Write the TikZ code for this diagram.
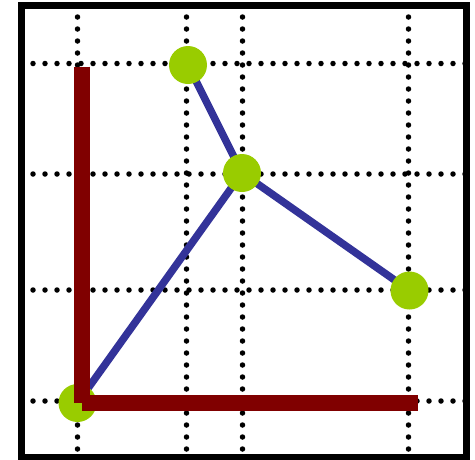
\documentclass[tikz,border=0pt]{standalone}
\definecolor{dotgreen}{RGB}{153,204,0}
\definecolor{edgeblue}{RGB}{51,51,153}
\definecolor{barred}{RGB}{128,0,0}
\begin{document}
\begin{tikzpicture}[x=1pt,y=-1pt,
  gridline/.style={line width=5.5pt,line cap=round,dash pattern=on 0pt off 12pt},
  vertex/.style={circle,fill=dotgreen,minimum size=38pt,inner sep=0pt},
  edge/.style={draw=edgeblue,line width=7.5pt},
  bar/.style={draw=barred,line width=16pt,line cap=butt}]
\useasboundingbox (0,0) rectangle (475,459);
% dotted grid
\foreach \x in {77.5,186.5,242.5,408.5}
  \draw[gridline] (\x,17) -- (\x,449);
\foreach \y in {63.5,174,290,401}
  \draw[gridline] (33,\y) -- (465,\y);
% vertex positions
\coordinate (a) at (188,65);
\coordinate (b) at (242,173);
\coordinate (c) at (409.5,290.5);
\coordinate (d) at (77.5,403);
% edges
\draw[edge] (d) -- (b);
\draw[edge] (a) -- (b);
\draw[edge] (b) -- (c);
% vertices
\node[vertex] (va) at (a) {};
\node[vertex] (vb) at (b) {};
\node[vertex] (vc) at (c) {};
\node[vertex] (vd) at (d) {};
% axes bars
\coordinate (top) at (82,66.5);
\coordinate (corner) at (82,402.7);
\coordinate (right) at (417.7,402.7);
\draw[bar] (top) -- (corner);
\draw[bar] (corner) -- (right);
% frame
\draw[line width=7pt] (21,5.5) rectangle (466,457);
\end{tikzpicture}
\end{document}
